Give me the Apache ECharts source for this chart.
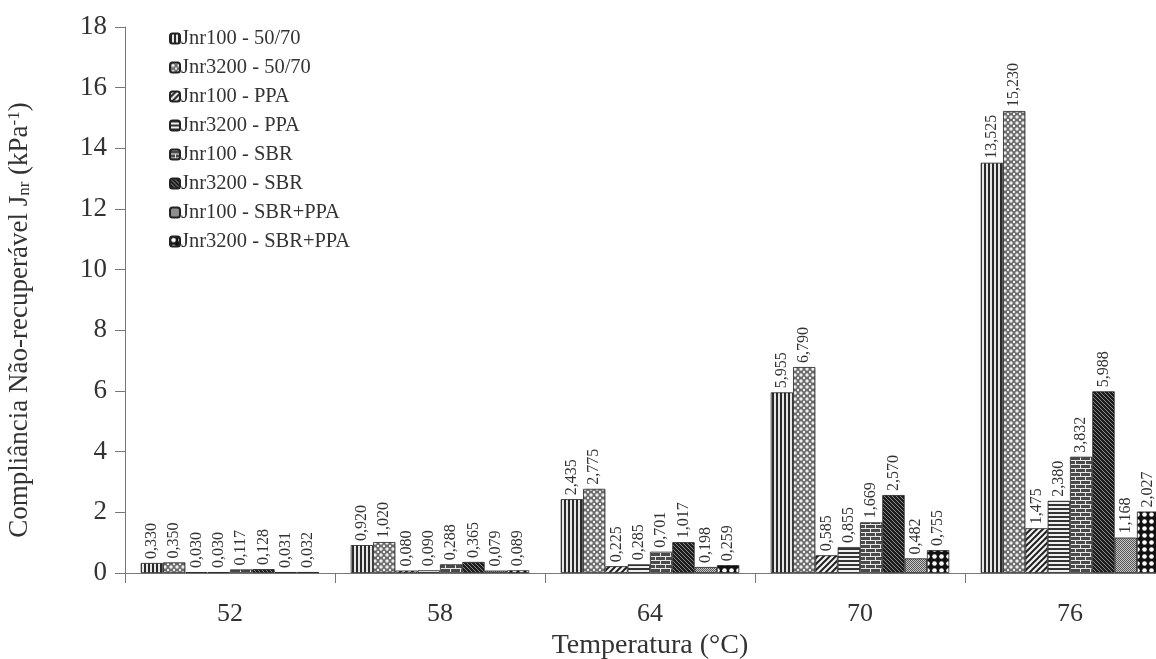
<!DOCTYPE html>
<html><head><meta charset="utf-8">
<script src="https://cdn.jsdelivr.net/npm/echarts@6/dist/echarts.min.js"></script>
<style>html,body{margin:0;padding:0;background:#fff}#c{width:1156px;height:659px}</style>
</head><body><div id="c"></div>
<script>
const categories = ['52', '58', '64', '70', '76'];
const seriesNames = ['Jnr100 - 50/70', 'Jnr3200 - 50/70', 'Jnr100 - PPA', 'Jnr3200 - PPA',
  'Jnr100 - SBR', 'Jnr3200 - SBR', 'Jnr100 - SBR+PPA', 'Jnr3200 - SBR+PPA'];
const jnr100_5070  = [0.330, 0.920, 2.435, 5.955, 13.525];
const jnr3200_5070 = [0.350, 1.020, 2.775, 6.790, 15.230];
const jnr100_PPA   = [0.030, 0.080, 0.225, 0.585, 1.475];
const jnr3200_PPA  = [0.030, 0.090, 0.285, 0.855, 2.380];
const jnr100_SBR   = [0.117, 0.288, 0.701, 1.669, 3.832];
const jnr3200_SBR  = [0.128, 0.365, 1.017, 2.570, 5.988];
const jnr100_SP    = [0.031, 0.079, 0.198, 0.482, 1.168];
const jnr3200_SP   = [0.032, 0.089, 0.259, 0.755, 2.027];
const yTicks = [0, 2, 4, 6, 8, 10, 12, 14, 16, 18];

const seriesData = [jnr100_5070, jnr3200_5070, jnr100_PPA, jnr3200_PPA, jnr100_SBR, jnr3200_SBR, jnr100_SP, jnr3200_SP];

function mk(w, h, draw) {
  const c = document.createElement('canvas'); c.width = w; c.height = h;
  const g = c.getContext('2d'); draw(g, w, h); return c;
}
const patterns = [
  // vertical stripes
  mk(4, 4, (g) => { g.fillStyle = '#e6e6e6'; g.fillRect(0,0,4,4); g.fillStyle = '#2a2a2a'; g.fillRect(0,0,2,4); }),
  // sphere dots
  mk(6, 6, (g) => { g.fillStyle = '#6a6a6a'; g.fillRect(0,0,6,6);
    g.fillStyle = '#eeeeee'; g.beginPath(); g.arc(3,3,1.7,0,Math.PI*2); g.fill();
    g.beginPath(); g.arc(0,0,1.2,0,Math.PI*2); g.arc(6,0,1.2,0,Math.PI*2); g.fill();
    g.beginPath(); g.arc(0,6,1.2,0,Math.PI*2); g.arc(6,6,1.2,0,Math.PI*2); g.fill(); }),
  // diagonal stripes
  mk(6, 6, (g) => { g.fillStyle = '#f4f4f4'; g.fillRect(0,0,6,6); g.strokeStyle = '#222'; g.lineWidth = 2;
    g.beginPath(); g.moveTo(-1,7); g.lineTo(7,-1); g.moveTo(-4,4); g.lineTo(4,-4); g.moveTo(2,10); g.lineTo(10,2); g.stroke(); }),
  // horizontal stripes
  mk(4, 4, (g) => { g.fillStyle = '#f0f0f0'; g.fillRect(0,0,4,4); g.fillStyle = '#333'; g.fillRect(0,0,4,2); }),
  // brick
  mk(10, 8, (g) => { g.fillStyle = '#4a4a4a'; g.fillRect(0,0,10,8); g.fillStyle = '#e8e8e8';
    g.fillRect(0,0,10,1); g.fillRect(0,4,10,1); g.fillRect(0,0,1,4); g.fillRect(5,4,1,4); }),
  // dark diagonal hatch
  mk(4, 4, (g) => { g.fillStyle = '#1e1e1e'; g.fillRect(0,0,4,4); g.fillStyle = '#8a8a8a';
    g.fillRect(0,0,1,1); g.fillRect(1,1,1,1); g.fillRect(2,2,1,1); g.fillRect(3,3,1,1); }),
  // fine checker medium gray
  mk(2, 2, (g) => { g.fillStyle = '#c8c8c8'; g.fillRect(0,0,2,2); g.fillStyle = '#555'; g.fillRect(0,0,1,1); g.fillRect(1,1,1,1); }),
  // black with white dots
  mk(7, 7, (g) => { g.fillStyle = '#111'; g.fillRect(0,0,7,7); g.fillStyle = '#fff';
    g.beginPath(); g.arc(3.5,3.5,2.3,0,Math.PI*2); g.fill(); })
];

const chart = echarts.init(document.getElementById('c'));
const serif = '"Liberation Serif", "DejaVu Serif", serif';
const fmt = v => v.toFixed(3).replace('.', ',');

chart.setOption({
  backgroundColor: '#fff',
  animation: false,
  textStyle: { fontFamily: serif },
  legend: {
    orient: 'vertical', left: 164, top: 23,
    itemWidth: 10, itemHeight: 10, itemGap: 8,
    data: seriesNames,
    textStyle: { fontFamily: serif, fontSize: 20.5, color: '#333', padding: [0,0,0,-4] }
  },
  grid: { left: 125, top: 27, width: 1050, height: 546, outerBoundsMode: 'none', containLabel: false },
  xAxis: {
    type: 'category', data: categories,
    name: 'Temperatura (°C)', nameLocation: 'middle', nameGap: 58,
    nameTextStyle: { fontFamily: serif, fontSize: 28, color: '#333' },
    axisLine: { lineStyle: { color: '#777', width: 1 } },
    axisTick: { show: true, length: 10, lineStyle: { color: '#777' } },
    axisLabel: { fontFamily: serif, fontSize: 26, color: '#333', margin: 28 }
  },
  yAxis: {
    type: 'value', min: 0, max: 18, interval: 2,
    name: '{n|Compliância Não-recuperável J}{s|nr}{n| (kPa}{p|-1}{n|)}',
    nameLocation: 'middle', nameGap: 92, nameRotate: 90,
    nameTextStyle: {
      padding: [0, 40, 0, 0],
      rich: {
        n: { fontFamily: serif, fontSize: 27, color: '#333' },
        s: { fontFamily: serif, fontSize: 17, color: '#333', verticalAlign: 'bottom', padding: [10,0,0,0] },
        p: { fontFamily: serif, fontSize: 17, color: '#333', verticalAlign: 'top', padding: [0,0,10,0] }
      }
    },
    axisLine: { show: true, lineStyle: { color: '#777', width: 1 } },
    axisTick: { show: true, length: 10, lineStyle: { color: '#777' } },
    axisLabel: { fontFamily: serif, fontSize: 27, color: '#333', margin: 18,
      formatter: v => yTicks.includes(v) ? String(v) : '' },
    splitLine: { show: false }
  },
  series: seriesNames.map((name, i) => ({
    name, type: 'bar', data: seriesData[i],
    barGap: '0%', barCategoryGap: '15%',
    itemStyle: { color: { image: patterns[i], repeat: 'repeat' }, borderColor: '#222', borderWidth: 0.8 },
    label: {
      show: true, position: 'top', rotate: 90, align: 'left', verticalAlign: 'middle', distance: 4,
      fontFamily: serif, fontSize: 16, color: '#333',
      formatter: p => fmt(p.value)
    }
  }))
});
</script></body></html>
